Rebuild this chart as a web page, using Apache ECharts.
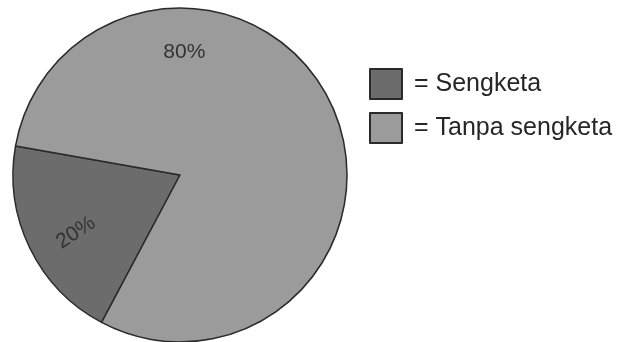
<!DOCTYPE html>
<html>
<head>
<meta charset="utf-8">
<script src="https://cdn.jsdelivr.net/npm/echarts@6/dist/echarts.min.js"></script>
<style>
  html, body { margin: 0; padding: 0; background: #fff; }
  #chart { width: 619px; height: 342px; }
</style>
</head>
<body>
<div id="chart"></div>
<script>
// Share of cases with and without a dispute (percent)
const categories = ['Sengketa', 'Tanpa sengketa'];
const shares = [20, 80];
const sliceColors = ['#6c6c6c', '#9b9b9b'];

const chart = echarts.init(document.getElementById('chart'), null, { renderer: 'canvas' });

const centerX = 180, centerY = 175, radius = 167;

// Where each percentage label sits: polar offset from the pie centre
const labelSpots = [
  { angle: 151, dist: 119, rotate: 33 },   // dark slice label
  { angle: -88, dist: 123, rotate: 0 }     // light slice label near the top
];

chart.setOption({
  animation: false,
  backgroundColor: '#ffffff',
  legend: {
    orient: 'vertical',
    left: 369,
    top: 68,
    padding: 0,
    itemWidth: 32,
    itemHeight: 30,
    itemGap: 12,
    icon: 'rect',
    formatter: name => '= ' + name,
    textStyle: {
      fontFamily: 'Liberation Sans, Arial, sans-serif',
      fontSize: 25,
      color: '#262626',
      padding: [0, 0, 0, 7]
    },
    itemStyle: { borderColor: '#2a2a2a', borderWidth: 2 },
    data: categories
  },
  series: [{
    type: 'pie',
    center: [centerX, centerY],
    radius: radius,
    startAngle: 242,
    clockwise: true,
    avoidLabelOverlap: false,
    silent: true,
    itemStyle: { borderColor: '#2a2a2a', borderWidth: 1.5 },
    label: {
      show: true,
      position: 'inside',
      formatter: '{d}%',
      fontFamily: 'Liberation Sans, Arial, sans-serif',
      fontSize: 21,
      color: '#333'
    },
    labelLine: { show: false },
    labelLayout: params => {
      const s = labelSpots[params.dataIndex];
      const a = s.angle * Math.PI / 180;
      return {
        x: centerX + s.dist * Math.cos(a),
        y: centerY + s.dist * Math.sin(a),
        rotate: s.rotate,
        align: 'center',
        verticalAlign: 'middle'
      };
    },
    data: categories.map((name, i) => ({
      name: name,
      value: shares[i],
      itemStyle: { color: sliceColors[i] }
    }))
  }]
});
</script>
</body>
</html>
